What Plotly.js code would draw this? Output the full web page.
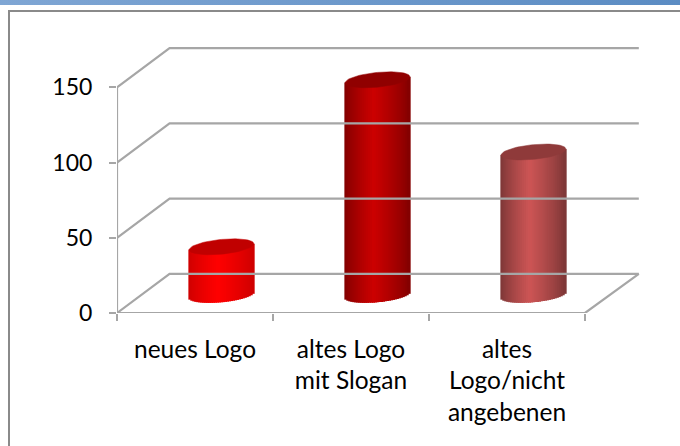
<!DOCTYPE html>
<html>
<head>
<meta charset="utf-8">
<script src="https://cdn.plot.ly/plotly-3.0.1.min.js"></script>
<style>
html,body{margin:0;padding:0;background:#fff;overflow:hidden}
#bar{position:absolute;left:0;top:0;width:680px;height:5px;background:linear-gradient(90deg,#7fa6d4,#5b8cc3)}
#frame{position:absolute;left:8px;top:10px;width:700px;height:460px;border:2px solid #8a8a8a;box-sizing:border-box}
#chart{position:absolute;left:0;top:0;width:680px;height:446px}
</style>
</head>
<body>
<div id="bar"></div>
<div id="frame"></div>
<div id="chart"></div>
<script>
const categories = ['neues Logo', 'altes Logo<br>mit Slogan', 'altes<br>Logo/nicht<br>angebenen'];
const values = [32, 143, 95];
const yTicks = [0, 50, 100, 150];
const edgeColors = [[205,0,0],[128,0,0],[122,54,54]];
const midColors = [[255,0,0],[204,0,0],[205,85,85]];
const capColors = ['#c00000','#900000','#8f3a3a'];
const gridColor = '#a6a6a6';

const pxX = 156, pxY = 225.7/150;
const depthX = 0.345, depthY = 26;
const rx = 0.208, ry = 4.9, tilt = 2, lift = 12, centerShift = 0.17;
const N = 33;

const gx = [], gy = [];
yTicks.forEach(v => {
  gx.push(0, depthX - 0.008, 3 + depthX, null);
  gy.push(v, v + depthY, v + depthY, null);
});
gx.push(0, 3, 3 + depthX, null, 0, 0);
gy.push(0, 0, depthY, null, 0, 150);

const traces = [{
  type:'scatter', mode:'lines', x:gx, y:gy, cliponaxis:false, hoverinfo:'skip',
  line:{color:gridColor, width:2.2}, showlegend:false
}];

values.forEach((val, i) => {
  const cx = i + 0.5 + centerShift;
  const step = 2*rx/N;
  const xs = [], bases = [], hs = [], cols = [];
  for (let k = 0; k < N; k++) {
    const u = -1 + (2*k + 1)/N;
    const bot = lift + tilt*u - ry*Math.sqrt(1 - u*u);
    const top = lift + val + tilt*u;
    const f = Math.pow(1 - Math.min(1, Math.abs(u + 0.1)/(u < -0.1 ? 0.9 : 1.1)), 0.8);
    xs.push(cx + u*rx);
    bases.push(bot);
    hs.push(top - bot);
    cols.push('rgb(' + edgeColors[i].map((c, j) => Math.round(c + (midColors[i][j] - c)*f)).join(',') + ')');
  }
  traces.push({
    type:'bar', x:xs, y:hs, base:bases, width:step*1.7,
    marker:{color:cols, line:{width:0}}, hoverinfo:'skip', showlegend:false
  });
  const ex = [], ey = [];
  for (let a = 0; a <= 72; a++) {
    const t = a/72*2*Math.PI;
    ex.push(cx + rx*Math.cos(t));
    ey.push(lift + val + ry*Math.sin(t) + tilt*Math.cos(t));
  }
  traces.push({
    type:'scatter', mode:'lines', x:ex, y:ey, fill:'toself', fillcolor:capColors[i],
    line:{color:capColors[i], width:0.5}, hoverinfo:'skip', showlegend:false
  });
});

const layout = {
  width:680, height:446,
  margin:{l:117, r:20, t:30, b:133, pad:0},
  paper_bgcolor:'rgba(0,0,0,0)', plot_bgcolor:'rgba(0,0,0,0)',
  barmode:'overlay', showlegend:false,
  font:{family:'Lato, sans-serif', size:24, color:'#000'},
  xaxis:{
    range:[0, 543/pxX], showgrid:false, zeroline:false, showline:false,
    tickmode:'array', tickvals:[0.5,1.5,2.5], ticktext:categories, ticks:'', tickangle:0,
    minor:{tickmode:'array', tickvals:[0,1,2,3], ticks:'outside', ticklen:7, tickwidth:2, tickcolor:gridColor, showgrid:false},
    tickfont:{size:24.5}, ticklabelstandoff:19, fixedrange:true
  },
  yaxis:{
    range:[0, 283/pxY], showgrid:false, zeroline:false, showline:false,
    tickmode:'array', tickvals:yTicks, ticks:'outside', ticklen:7, tickwidth:2, tickcolor:gridColor,
    tickfont:{size:23}, ticklabelstandoff:12, fixedrange:true
  }
};
Plotly.newPlot('chart', traces, layout, {displayModeBar:false, staticPlot:true});
</script>
</body>
</html>
